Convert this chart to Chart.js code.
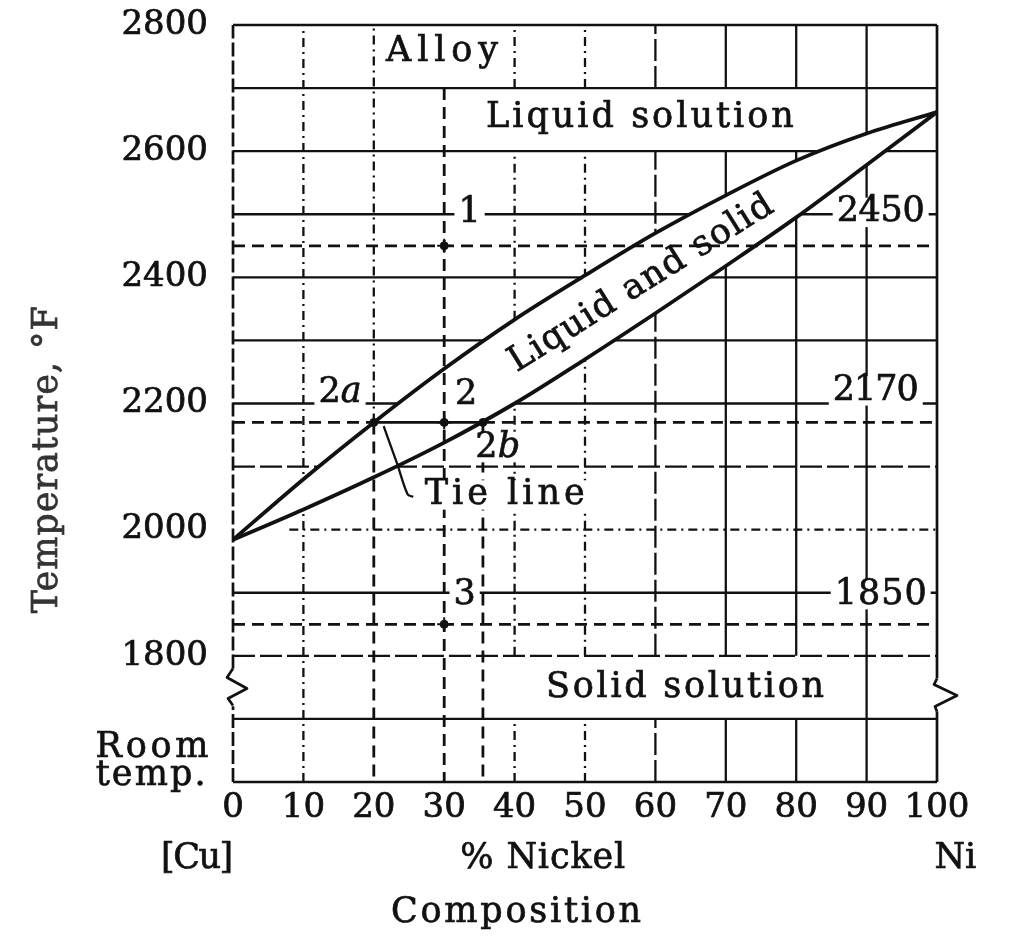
<!DOCTYPE html>
<html>
<head>
<meta charset="utf-8">
<title>Copper-nickel phase diagram</title>
<script src="https://cdn.jsdelivr.net/npm/chart.js@4.4.1/dist/chart.umd.min.js"></script>
<style>
  html, body { margin: 0; padding: 0; background: #fff; }
  #wrap { width: 1013px; height: 943px; position: relative; }
</style>
</head>
<body>
<div id="wrap"><canvas id="chart"></canvas></div>
<script>
// Cu-Ni equilibrium diagram (temperature vs % nickel)

const composition  = [0, 10, 20, 30, 40, 50, 60, 70, 80, 90, 100];
const liquidusTemp = [1984, 2080, 2170, 2255, 2333, 2403, 2470, 2530, 2585, 2628, 2662];
const solidusTemp  = [1984, 2032, 2083, 2138, 2200, 2270, 2343, 2418, 2495, 2578, 2662];

const xTickValues = [0, 10, 20, 30, 40, 50, 60, 70, 80, 90, 100];
const xTickLabels = ['0', '10', '20', '30', '40', '50', '60', '70', '80', '90', '100'];
const yTickValues = [1600, 1800, 2000, 2200, 2400, 2600, 2800];
const yTickLabels = ['', '1800', '2000', '2200', '2400', '2600', '2800']; // 1600 = room temp

// alloy and tie line
const alloyNickel = 30;
const liquidNickel = 20;     // point 2a
const solidNickel = 35.5;    // point 2b
const markTemps = [2450, 2170, 1850];
const tieTemp = 2170;
const pointerNickel = [21.4, 23.3, 24.8, 25.6];
const pointerTemp = [2164, 2105, 2056, 2052];

const FONT = '"DejaVu Serif", "Liberation Serif", serif';
const INK = '#111';

// thin grid styles
const dashes = { solid: [], dashDot: [9, 5, 2, 5], broken: [22, 5] };
const hLineStyle = { 2700: 'solid', 2600: 'solid', 2500: 'solid', 2400: 'solid', 2300: 'solid',
  2200: 'solid', 2100: 'broken', 2000: 'dashDot', 1900: 'solid', 1800: 'broken', 1700: 'solid' };
const vLineStyle = { 10: 'dashDot', 20: 'dashDot', 40: 'dashDot', 50: 'dashDot',
  60: 'broken', 70: 'solid', 80: 'solid', 90: 'solid' };

const plotLabels = [
  { parts: [{ t: 'Alloy' }], x: 29.7, y: 2757, w: 112, box: true },
  { parts: [{ t: 'Liquid solution' }], x: 57.8, y: 2653, w: 308, box: true },
  { parts: [{ t: '1' }], x: 33.6, y: 2502, box: true },
  { parts: [{ t: '2450' }], x: 92, y: 2503, w: 88, box: true },
  { parts: [{ t: '2' }, { t: 'a', italic: true }], x: 15.2, y: 2217, box: true },
  { parts: [{ t: '2' }], x: 33.1, y: 2214, box: true },
  { parts: [{ t: '2170' }], x: 91.3, y: 2220, w: 86, box: true },
  { parts: [{ t: '2' }, { t: 'b', italic: true }], x: 37.6, y: 2130, box: true },
  { parts: [{ t: 'Tie line' }], x: 38.6, y: 2055, w: 160, box: true },
  { parts: [{ t: '3' }], x: 32.9, y: 1897, box: true },
  { parts: [{ t: '1850' }], x: 92, y: 1897, w: 92, box: true },
  { parts: [{ t: 'Solid solution' }], x: 64.2, y: 1749, w: 278, box: true },
  { parts: [{ t: 'Liquid and solid' }], x: 58, y: 2390, w: 305, rot: -32 },
  // outside the frame
  { parts: [{ t: 'Temperature, °F' }], x: -26.3, y: 2111, w: 307, rot: -90, color: '#333' },
  { parts: [{ t: 'Room' }], x: -11.5, y: 1654, w: 113 },
  { parts: [{ t: 'temp.' }], x: -11.7, y: 1610, w: 110 },
  { parts: [{ t: '[Cu]' }], x: -5.1, y: 1478, w: 72 },
  { parts: [{ t: '% Nickel' }], x: 44, y: 1478, w: 165 },
  { parts: [{ t: 'Ni' }], x: 102.6, y: 1478 },
  { parts: [{ t: 'Composition' }], x: 40.2, y: 1392, w: 250 }
];

function pts(xs, ys) {
  return xs.map((x, i) => ({ x: x, y: ys[i] }));
}

function heavyLine(x1, y1, x2, y2) {
  return {
    data: [{ x: x1, y: y1 }, { x: x2, y: y2 }],
    borderColor: INK, borderWidth: 2.8, borderDash: [12, 7],
    pointRadius: 0, fill: false, order: 2
  };
}

function line(ctx, a, b, dash, width) {
  ctx.save();
  ctx.strokeStyle = INK;
  ctx.lineWidth = width;
  ctx.setLineDash(dash);
  ctx.beginPath();
  ctx.moveTo(a[0], a[1]);
  ctx.lineTo(b[0], b[1]);
  ctx.stroke();
  ctx.restore();
}

function poly(ctx, list, width) {
  ctx.save();
  ctx.strokeStyle = INK;
  ctx.lineWidth = width;
  ctx.lineJoin = 'round';
  ctx.beginPath();
  list.forEach((p, i) => i ? ctx.lineTo(p[0], p[1]) : ctx.moveTo(p[0], p[1]));
  ctx.stroke();
  ctx.restore();
}

function drawText(ctx, parts, cx, cy, opts) {
  const size = opts.size || 35;
  const fontOf = p => (p.italic ? 'italic ' : '') + size + 'px ' + FONT;
  ctx.save();
  ctx.translate(cx, cy);
  if (opts.rot) ctx.rotate(opts.rot * Math.PI / 180);
  ctx.textBaseline = 'middle';
  ctx.textAlign = 'left';
  ctx.letterSpacing = '0px';
  let raw = 0, n = 0;
  parts.forEach(p => { ctx.font = fontOf(p); raw += ctx.measureText(p.t).width; n += p.t.length; });
  const sp = (opts.w && n > 1) ? (opts.w - raw) / (n - 1) : 0;
  const total = raw + sp * (n - 1);
  if (opts.box) {
    ctx.fillStyle = '#fff';
    ctx.fillRect(-total / 2 - 4, -size * 0.42, total + 8, size * 0.84);
  }
  ctx.fillStyle = opts.color || INK;
  ctx.strokeStyle = opts.color || INK;
  ctx.lineWidth = 0.7;
  ctx.letterSpacing = sp + 'px';
  let x = -total / 2;
  parts.forEach(p => {
    ctx.font = fontOf(p);
    ctx.fillText(p.t, x, 0);
    ctx.strokeText(p.t, x, 0);
    x += ctx.measureText(p.t).width;
  });
  ctx.restore();
}

const diagramPlugin = {
  id: 'diagram',
  beforeDatasetsDraw(chart) {
    const ctx = chart.ctx;
    const xs = chart.scales.x, ys = chart.scales.y;
    const P = (x, y) => [xs.getPixelForValue(x), ys.getPixelForValue(y)];

    // horizontal grid
    Object.keys(hLineStyle).forEach(t => {
      const T = Number(t);
      const from = T === 2000 ? 8 : 0;
      line(ctx, P(from, T), P(100, T), dashes[hLineStyle[t]], 2.3);
    });
    // vertical grid
    Object.keys(vLineStyle).forEach(v => {
      const X = Number(v);
      let ranges = [[1600, 2800]];
      if (X === 20) ranges = [[2170, 2800]];
      if (X >= 40 && X <= 80) ranges = [[1600, 1700], [1800, 2600], [2700, 2800]];
      ranges.forEach(r => line(ctx, P(X, r[0]), P(X, r[1]), dashes[vLineStyle[v]], 2.3));
    });
    // frame
    line(ctx, P(0, 2800), P(100, 2800), [], 2.7);
    line(ctx, P(0, 1600), P(100, 1600), [], 2.7);
    line(ctx, P(0, 1600), P(0, 1720), [14, 4], 2.7);
    line(ctx, P(0, 1780), P(0, 2800), [14, 4], 2.7);
    line(ctx, P(100, 1600), P(100, 1712), [], 2.7);
    line(ctx, P(100, 1764), P(100, 2800), [], 2.7);

    // break marks
    const l = P(0, 1780), r = P(100, 1764);
    poly(ctx, [[l[0], l[1]], [l[0] - 6, l[1] + 9], [l[0] + 14, l[1] + 20], [l[0] - 5, l[1] + 30], [l[0], l[1] + 37]], 2.7);
    poly(ctx, [[r[0], r[1]], [r[0] - 3, r[1] + 6], [r[0] + 20, r[1] + 17], [r[0] - 2, r[1] + 28], [r[0], r[1] + 33]], 2.7);
  },
  afterDatasetsDraw(chart) {
    const ctx = chart.ctx;
    const xs = chart.scales.x, ys = chart.scales.y;
    plotLabels.forEach(lb => {
      drawText(ctx, lb.parts, xs.getPixelForValue(lb.x), ys.getPixelForValue(lb.y), lb);
    });
  }
};

const datasets = [
  {
    label: 'Liquidus',
    data: pts(composition, liquidusTemp),
    borderColor: INK, borderWidth: 3.8, pointRadius: 0,
    cubicInterpolationMode: 'monotone',
    fill: '+1', backgroundColor: '#fff',
    order: 6
  },
  {
    label: 'Solidus',
    data: pts(composition, solidusTemp),
    borderColor: INK, borderWidth: 3.8, pointRadius: 0,
    cubicInterpolationMode: 'monotone',
    fill: false,
    order: 5
  },
  heavyLine(alloyNickel, 2700, alloyNickel, 1600),
  heavyLine(liquidNickel, tieTemp, liquidNickel, 1600),
  heavyLine(solidNickel, tieTemp, solidNickel, 1600),
  heavyLine(0, tieTemp, liquidNickel, tieTemp),
  heavyLine(solidNickel, tieTemp, 100, tieTemp),
  ...markTemps.filter(t => t !== tieTemp).map(t => heavyLine(0, t, 100, t)),
  {
    label: 'Tie line',
    data: pts([liquidNickel, solidNickel], [tieTemp, tieTemp]),
    borderColor: INK, borderWidth: 2.7, pointRadius: 0, fill: false, order: 1
  },
  {
    label: 'Pointer',
    data: pts(pointerNickel, pointerTemp),
    borderColor: INK, borderWidth: 2.3, pointRadius: 0, fill: false, tension: 0.3, order: 1
  },
  {
    label: 'Points',
    data: pts([alloyNickel, alloyNickel, alloyNickel, liquidNickel, solidNickel], markTemps.concat([tieTemp, tieTemp])),
    showLine: false, pointRadius: 4, pointBackgroundColor: INK, pointBorderColor: INK,
    order: 0
  },
  {
    label: 'Crosses',
    data: pts([alloyNickel, alloyNickel, alloyNickel], markTemps),
    showLine: false, pointStyle: 'cross', pointRadius: 7, pointBorderWidth: 2,
    pointBorderColor: INK, order: 0
  }
];

new Chart(document.getElementById('chart'), {
  type: 'line',
  data: { datasets: datasets },
  options: {
    responsive: true,
    maintainAspectRatio: false,
    animation: false,
    layout: { padding: { top: 25, right: 76, left: 0, bottom: 0 } },
    plugins: { legend: { display: false }, tooltip: { enabled: false } },
    scales: {
      x: {
        type: 'linear', min: 0, max: 100,
        grid: { display: false, drawTicks: false },
        border: { display: false },
        afterBuildTicks: s => { s.ticks = xTickValues.map(v => ({ value: v })); },
        afterFit: s => { s.height = 161; s.paddingLeft = 0; s.paddingRight = 0; },
        ticks: {
          autoSkip: false, maxRotation: 0, padding: 6, color: INK,
          textStrokeColor: INK, textStrokeWidth: 0.7,
          font: { family: FONT, size: 34 },
          callback: v => xTickLabels[xTickValues.indexOf(v)]
        }
      },
      y: {
        type: 'linear', min: 1600, max: 2800,
        grid: { display: false, drawTicks: false },
        border: { display: false },
        afterBuildTicks: s => { s.ticks = yTickValues.map(v => ({ value: v })); },
        afterFit: s => { s.width = 233; s.paddingTop = 0; s.paddingBottom = 0; },
        ticks: {
          autoSkip: false, padding: 25, color: INK,
          textStrokeColor: INK, textStrokeWidth: 0.7,
          font: { family: FONT, size: 34 },
          callback: v => yTickLabels[yTickValues.indexOf(v)]
        }
      }
    }
  },
  plugins: [diagramPlugin]
});
</script>
</body>
</html>
